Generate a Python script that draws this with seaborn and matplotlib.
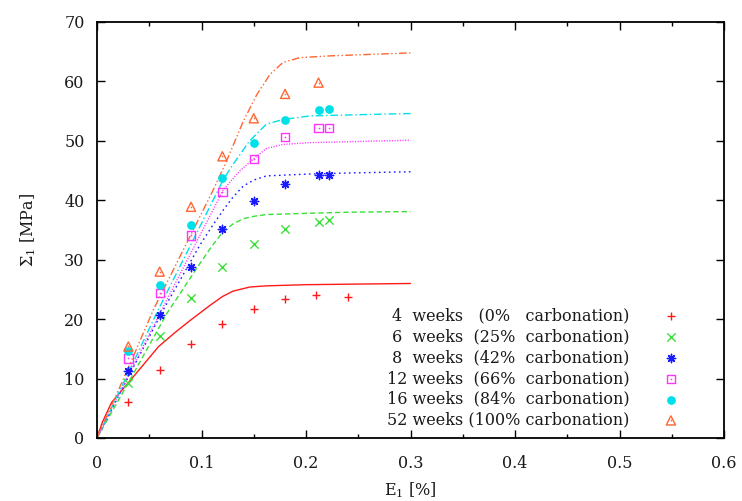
import matplotlib
matplotlib.use("Agg")
import matplotlib.pyplot as plt
import numpy as np
import pandas as pd
import seaborn as sns
from matplotlib.legend_handler import HandlerTuple

# ---------------- data ----------------
series_labels = [
    "4  weeks   (0%   carbonation)",
    "6  weeks  (25%  carbonation)",
    "8  weeks  (42%  carbonation)",
    "12 weeks  (66%  carbonation)",
    "16 weeks  (84%  carbonation)",
    "52 weeks (100% carbonation)",
]
colors = ["#ff1a1a", "#38e038", "#1a1aff", "#ff33ff", "#00e0e8", "#ff6633"]

# experimental points
exp_x_4 = [0.03, 0.06, 0.09, 0.12, 0.15, 0.18, 0.21, 0.24]
exp_y_4 = [6.1, 11.4, 15.9, 19.2, 21.7, 23.4, 24.1, 23.7]
exp_x_mid = [0.03, 0.06, 0.09, 0.12, 0.15, 0.18, 0.212, 0.222]
exp_y_6 = [9.2, 17.2, 23.6, 28.8, 32.7, 35.2, 36.3, 36.6]
exp_y_8 = [11.2, 20.7, 28.7, 35.1, 39.8, 42.8, 44.2, 44.2]
exp_y_12 = [13.4, 24.4, 34.1, 41.4, 46.9, 50.6, 52.2, 52.2]
exp_y_16 = [14.7, 25.8, 35.9, 43.7, 49.6, 53.5, 55.2, 55.3]
exp_x_52 = [0.03, 0.06, 0.09, 0.12, 0.15, 0.18, 0.212]
exp_y_52 = [15.4, 28.0, 38.9, 47.4, 53.8, 57.9, 59.8]

# model curves
mod_x_4 = [0, 0.005, 0.014, 0.03, 0.059, 0.075, 0.09, 0.108, 0.12, 0.13, 0.146, 0.162, 0.2, 0.25, 0.3]
mod_y_4 = [0, 2.6, 6.0, 9.3, 15.4, 17.8, 19.9, 22.3, 23.8, 24.7, 25.4, 25.6, 25.8, 25.9, 26.0]
mod_x_6 = [0, 0.03, 0.067, 0.099, 0.11, 0.121, 0.13, 0.14, 0.15, 0.162, 0.2, 0.242, 0.3]
mod_y_6 = [0, 9.3, 21.0, 29.5, 32.3, 34.8, 36.0, 36.9, 37.3, 37.6, 37.8, 38.0, 38.1]
mod_x_8 = [0, 0.03, 0.0635, 0.0986, 0.11, 0.121, 0.13, 0.14, 0.15, 0.162, 0.2, 0.242, 0.3]
mod_y_8 = [0, 10.3, 21.6, 32.5, 35.6, 38.4, 40.5, 42.4, 43.4, 44.1, 44.4, 44.6, 44.8]
mod_x_12 = [0, 0.03, 0.062, 0.121, 0.137, 0.15, 0.162, 0.178, 0.204, 0.25, 0.3]
mod_y_12 = [0, 10.5, 21.6, 41.8, 45.0, 47.0, 48.7, 49.4, 49.7, 49.9, 50.1]
mod_x_16 = [0, 0.03, 0.0587, 0.121, 0.13, 0.146, 0.162, 0.178, 0.204, 0.25, 0.3]
mod_y_16 = [0, 11.0, 21.6, 43.5, 46.0, 50.0, 52.8, 53.6, 54.2, 54.4, 54.6]
mod_x_52 = [0, 0.03, 0.054, 0.11, 0.1225, 0.14, 0.153, 0.1656, 0.178, 0.194, 0.223, 0.3]
mod_y_52 = [0, 11.8, 21.6, 41.3, 46.0, 53.3, 57.8, 61.2, 63.2, 64.0, 64.3, 64.8]

xtick_values = [0, 0.1, 0.2, 0.3, 0.4, 0.5, 0.6]
xtick_labels = ["0", "0.1", "0.2", "0.3", "0.4", "0.5", "0.6"]
ytick_values = [0, 10, 20, 30, 40, 50, 60, 70]
ytick_labels = ["0", "10", "20", "30", "40", "50", "60", "70"]

# ---------------- style ----------------
sns.set_theme(style="ticks")
plt.rcParams["font.family"] = ["DejaVu Serif", "Liberation Serif"]
plt.rcParams["mathtext.fontset"] = "dejavuserif"
FS = 11.5
TXT = "#1a1a1a"

fig = plt.figure(figsize=(7.42, 5.01), dpi=100)
ax = fig.add_axes([97 / 742, 1 - 438 / 501, (724 - 97) / 742, (438 - 22) / 501])

exp_sets = [
    (exp_x_4, exp_y_4), (exp_x_mid, exp_y_6), (exp_x_mid, exp_y_8),
    (exp_x_mid, exp_y_12), (exp_x_mid, exp_y_16), (exp_x_52, exp_y_52),
]
mod_sets = [
    (mod_x_4, mod_y_4), (mod_x_6, mod_y_6), (mod_x_8, mod_y_8),
    (mod_x_12, mod_y_12), (mod_x_16, mod_y_16), (mod_x_52, mod_y_52),
]
line_styles = [
    "-",
    (0, (3.8, 2.2)),
    (0, (1.2, 2.4)),
    (0, (0.8, 1.1)),
    (0, (5.5, 2.0, 1.0, 2.0)),
    (0, (5.5, 1.8, 1.0, 1.8, 1.0, 1.8)),
]

for (mx, my), c, ls in zip(mod_sets, colors, line_styles):
    dfm = pd.DataFrame({"x": mx, "y": my})
    sns.lineplot(data=dfm, x="x", y="y", ax=ax, color=c, linestyle=ls,
                 linewidth=1.0, sort=False, estimator=None, zorder=2)

handles = []
S = 36
# 4 weeks: plus
d = pd.DataFrame({"x": exp_sets[0][0], "y": exp_sets[0][1]})
h = sns.scatterplot(data=d, x="x", y="y", ax=ax, marker="+", color=colors[0],
                    s=S, linewidth=1.0, zorder=3).collections[-1]
handles.append(h)
# 6 weeks: x
d = pd.DataFrame({"x": exp_sets[1][0], "y": exp_sets[1][1]})
h = sns.scatterplot(data=d, x="x", y="y", ax=ax, marker="x", color=colors[1],
                    s=S, linewidth=1.0, zorder=3).collections[-1]
handles.append(h)
# 8 weeks: star (+ and x)
d = pd.DataFrame({"x": exp_sets[2][0], "y": exp_sets[2][1]})
h = sns.scatterplot(data=d, x="x", y="y", ax=ax, marker=(8, 2, 0), color=colors[2],
                    s=S, linewidth=1.0, zorder=3).collections[-1]
handles.append(h)
# 12 weeks: open square with dot
d = pd.DataFrame({"x": exp_sets[3][0], "y": exp_sets[3][1]})
h1 = sns.scatterplot(data=d, x="x", y="y", ax=ax, marker="s", color=colors[3],
                     facecolor="none", edgecolor=colors[3], s=S, linewidth=1.0,
                     zorder=3).collections[-1]
h2 = sns.scatterplot(data=d, x="x", y="y", ax=ax, marker="o", color=colors[3],
                     s=1.5, linewidth=0, zorder=3).collections[-1]
handles.append((h1, h2))
# 16 weeks: filled circle
d = pd.DataFrame({"x": exp_sets[4][0], "y": exp_sets[4][1]})
h = sns.scatterplot(data=d, x="x", y="y", ax=ax, marker="o", color=colors[4],
                    s=S * 1.1, linewidth=0, zorder=3).collections[-1]
handles.append(h)
# 52 weeks: open triangle with dot
d = pd.DataFrame({"x": exp_sets[5][0], "y": exp_sets[5][1]})
h1 = sns.scatterplot(data=d, x="x", y="y", ax=ax, marker="^", color=colors[5],
                     facecolor="none", edgecolor=colors[5], s=S * 1.2, linewidth=1.0,
                     zorder=3).collections[-1]
h2 = sns.scatterplot(data=d, x="x", y="y", ax=ax, marker="o", color=colors[5],
                     s=1.5, linewidth=0, zorder=3).collections[-1]
handles.append((h1, h2))

# ---------------- axes ----------------
ax.set_xlim(0, 0.6)
ax.set_ylim(0, 70)
ax.set_xticks(xtick_values)
ax.set_xticklabels(xtick_labels, fontsize=FS)
ax.set_xticks([0.05, 0.15, 0.25, 0.35, 0.45, 0.55], minor=True)
ax.set_yticks(ytick_values)
ax.set_yticklabels(ytick_labels, fontsize=FS)
ax.tick_params(axis="x", which="major", direction="in", length=6, width=1.0,
               top=True, right=True, colors="black", labelcolor=TXT, pad=12)
ax.tick_params(axis="y", which="major", direction="in", length=6, width=1.0,
               top=True, right=True, colors="black", labelcolor=TXT, pad=9)
ax.tick_params(axis="both", which="minor", direction="in", length=3, width=1.0,
               top=True, right=True, colors="black")
for sp in ax.spines.values():
    sp.set_visible(True)
    sp.set_linewidth(1.3)
    sp.set_color("black")

ax.set_xlabel("E$_1$ [%]", fontsize=FS, color=TXT, labelpad=6)
ax.set_ylabel("Σ$_1$ [MPa]", fontsize=FS, color=TXT, labelpad=19)

leg = ax.legend(handles, series_labels, loc="lower right",
                bbox_to_anchor=(0.951, -0.012), markerfirst=False, frameon=False,
                fontsize=FS, handlelength=1.0, handletextpad=2.1,
                labelspacing=0.24, borderpad=0.4,
                handler_map={tuple: HandlerTuple(ndivide=1)})
for t in leg.get_texts():
    t.set_color(TXT)

fig.savefig("out.png", dpi=100)
